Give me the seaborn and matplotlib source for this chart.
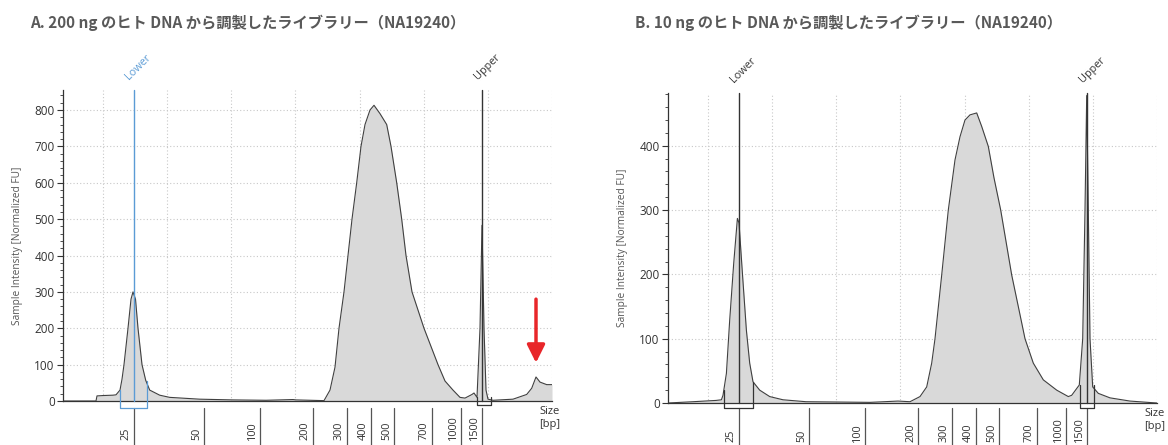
import numpy as np
import pandas as pd
import matplotlib
matplotlib.use('Agg')
import matplotlib.pyplot as plt
import matplotlib.transforms as mtransforms
import seaborn as sns

sns.set_theme(style='white')
plt.rcParams['font.family'] = ['Open Sans', 'DejaVu Sans']

# Ladder sizes (bp) and their position along the run axis
ladder_bp = [25, 50, 100, 200, 300, 400, 500, 700, 1000, 1500]
ladder_pos = [70.5, 141, 197, 250, 284, 308, 331, 369, 398, 419]

# Marker positions (Lower = 25 bp, Upper = 1500 bp)
lower_pos = 70.5
upper_pos = 419

# Panel A: 200 ng library trace
pos_a = [0, 33, 34, 40, 50, 53, 57, 59, 61, 65, 68, 70, 72.5, 75, 79, 82.7, 86.7,
         96.7, 106.7, 136.7, 170, 203, 230, 233, 261, 267, 272, 276, 281, 285,
         289, 293.7, 298, 302, 307, 311, 317, 323.7, 328, 333.7, 338.7, 343, 349,
         361, 375, 382, 390, 397, 402, 409, 411, 414, 417, 419, 421, 423, 425,
         430, 450, 463.7, 468.7, 473, 477, 483.7, 489]
fu_a = [0, 0, 14, 15, 16, 17, 30, 60, 100, 200, 280, 300, 280, 200, 100, 57, 30,
        16, 10, 5, 3, 2, 4, 3, 1, 30, 93, 200, 300, 400,
        500, 600, 700, 760, 800, 813, 790, 760, 700, 600, 500, 400, 300,
        200, 100, 55, 30, 10, 8, 18, 22, 10, 200, 483, 200, 30, 5,
        2, 5, 18, 35, 66, 52, 45, 45]

# Panel B: 10 ng library trace
pos_b = [0, 25, 48, 53.4, 55, 58.4, 61.7, 65.7, 69.4, 71, 74.4, 78.4, 81.7, 85,
         91.7, 101.7, 115, 138, 202, 230, 242, 252, 258.7, 263.7, 267, 273.7,
         280.3, 287, 292, 297, 302, 308.7, 313.7, 320.3, 326, 332.7, 343.7, 350.3,
         357, 365.3, 375.3, 388.7, 400.3, 403.7, 411.3, 414.7, 417, 418.7, 420.3,
         422, 424.7, 430.3, 442, 462, 488.7]
fu_b = [0, 2, 4, 5, 12, 46, 129, 217, 287, 280, 202, 113, 62, 33,
        20, 10, 5, 2, 1, 3, 2, 10, 25, 62, 100, 199,
        300, 378, 414, 440, 448, 451, 430, 399, 350, 300, 199, 150,
        100, 62, 36, 20, 10, 12, 28, 100, 300, 478, 300,
        100, 25, 15, 8, 3, 0]

titles = ['A. 200 ng のヒト DNA から調製したライブラリー（NA19240）',
          'B. 10 ng のヒト DNA から調製したライブラリー（NA19240）']

W, H = 1168, 445
fig = plt.figure(figsize=(W / 100, H / 100), dpi=100)

panels = [
    dict(pos=pos_a, fu=fu_a, ymax=855, rect=(63, 401, 489, 311), lower_col='#5b9bd5',
         lower_box=(57, 84, 30, 55, -19), upper_box=(414, 428, 10, 10, -11),
         tick_gap=7, title_x=30, arrow=True),
    dict(pos=pos_b, fu=fu_b, ymax=482, rect=(668, 403, 489, 310), lower_col='#333333',
         lower_box=(56, 85, 20, 33, -8), upper_box=(412, 426, 28, 28, -8),
         tick_gap=5, title_x=635, arrow=False),
]

grid_x = np.arange(40, 490, 64.15)

for i, p in enumerate(panels):
    x0, base, w, h = p['rect']
    ax = fig.add_axes([x0 / W, (H - base) / H, w / W, h / H])
    df = pd.DataFrame({'pos': p['pos'], 'fu': p['fu']})
    ax.fill_between(df['pos'], df['fu'], 0, color='#d9d9d9', lw=0, zorder=1)
    sns.lineplot(data=df, x='pos', y='fu', ax=ax, color='#404040', lw=0.8, zorder=3)
    ax.set_xlim(0, 489)
    ax.set_ylim(0, p['ymax'])
    ax.set_xlabel('')
    ax.set_ylabel('Sample Intensity [Normalized FU]', fontsize=7.3, color='#555555', labelpad=8)

    # grid
    for gx in grid_x:
        ax.axvline(gx, color='#c8c8c8', lw=0.8, ls=(0, (1, 2)), zorder=0)
    yt = np.arange(100, p['ymax'], 100)
    for gy in yt:
        ax.axhline(gy, color='#c8c8c8', lw=0.8, ls=(0, (1, 2)), zorder=0)

    ax.set_yticks(np.arange(0, p['ymax'], 100))
    ax.set_yticks(np.arange(0, p['ymax'], 20), minor=True)
    ax.tick_params(axis='y', which='major', length=4, width=0.8, color='#333333',
                   labelsize=8.5, labelcolor='#333333', pad=2, left=True)
    ax.tick_params(axis='y', which='minor', length=2, width=0.6, color='#333333', left=True)
    ax.set_xticks([])
    for s in ['top', 'right']:
        ax.spines[s].set_visible(False)
    ax.spines['left'].set_color('#333333')
    ax.spines['bottom'].set_color('#333333')
    ax.spines['left'].set_linewidth(0.9)
    ax.spines['bottom'].set_linewidth(0.9)

    # ladder ticks below axis
    tr = mtransforms.blended_transform_factory(ax.transData, ax.transAxes)
    gap = p['tick_gap'] / h
    bot = -(H - base) / h
    for bp, lp in zip(ladder_bp, ladder_pos):
        ax.plot([lp, lp], [-gap, bot], transform=tr, color='#555555', lw=0.9, clip_on=False)
        ax.annotate(str(bp), xy=(lp, 0), xycoords=tr, xytext=(-2, -39),
                    textcoords='offset pixels', rotation=90, ha='right', va='bottom',
                    fontsize=7.8, color='#333333', annotation_clip=False)
    ax.annotate('Size\n[bp]', xy=(487, 0), xycoords=tr, xytext=(0, -5),
                textcoords='offset pixels', ha='center', va='top', fontsize=8,
                color='#333333', linespacing=1.3, annotation_clip=False)

    # markers
    for mpos, mcol, mlabel in [(lower_pos, p['lower_col'], 'Lower'), (upper_pos, '#333333', 'Upper')]:
        ax.plot([mpos, mpos], [0, 1], transform=tr, color=mcol, lw=1.0, zorder=4, clip_on=False)
        ax.annotate(mlabel, xy=(mpos, 1), xycoords=tr, xytext=(-2, 8),
                    textcoords='offset pixels', rotation=45, ha='left', va='bottom',
                    rotation_mode='anchor', fontsize=7.8, color=mcol, annotation_clip=False)
    for box, bcol in [(p['lower_box'], p['lower_col']), (p['upper_box'], '#333333')]:
        bx0, bx1, hl, hr, by = box
        ax.plot([bx0, bx0, bx1, bx1], [hl, by, by, hr], color=bcol, lw=0.9,
                clip_on=False, zorder=4)

    if p['arrow']:
        ax.annotate('', xy=(473, 105), xytext=(473, 280),
                    arrowprops=dict(arrowstyle='-|>,head_width=0.45,head_length=0.9',
                                    color='#e8262a', lw=2.5, shrinkA=0, shrinkB=0))

    fig.text(p['title_x'] / W, 1 - 23 / H, titles[i], ha='left', va='center',
             fontsize=11, fontweight='bold', color='#595959',
             family=['Noto Sans CJK JP', 'DejaVu Sans'])

fig.savefig('out.png', dpi=100)
